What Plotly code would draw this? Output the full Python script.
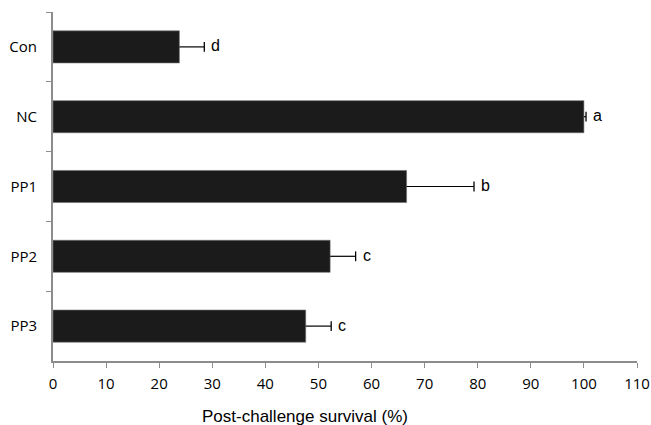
import plotly.graph_objects as go

categories = ["Con", "NC", "PP1", "PP2", "PP3"]
survival = [23.8, 100.0, 66.6, 52.2, 47.6]
errors = [4.7, 0.4, 12.7, 4.8, 4.8]
letters = ["d", "a", "b", "c", "c"]
x_ticks = [0, 10, 20, 30, 40, 50, 60, 70, 80, 90, 100, 110]

fig = go.Figure()
fig.add_trace(go.Bar(
    x=survival, y=categories, orientation="h",
    marker=dict(color="#1b1b1b", line=dict(color="#6e6e6e", width=0.6)),
    width=0.46,
))

# one-sided error bars (plus side only), built from the data arrays
ex, ey = [], []
for c, v, e in zip(categories, survival, errors):
    ex += [v, v + e, None]
    ey += [c, c, None]
fig.add_trace(go.Scatter(x=ex, y=ey, mode="lines",
                         line=dict(color="black", width=1.2),
                         hoverinfo="skip"))
fig.add_trace(go.Scatter(x=[v + e for v, e in zip(survival, errors)], y=categories,
                         mode="markers",
                         marker=dict(symbol="line-ns", size=7,
                                     line=dict(color="black", width=1.3)),
                         hoverinfo="skip"))

for c, v, e, l in zip(categories, survival, errors, letters):
    fig.add_annotation(x=v + e, y=c, text=l, showarrow=False,
                       xanchor="left", xshift=5, yshift=1,
                       font=dict(family="Liberation Sans", size=16, color="black"))

fig.add_annotation(x=0.431, y=0, xref="paper", yref="paper",
                   text="Post-challenge survival (%)", showarrow=False,
                   xanchor="center", yanchor="middle", yshift=-55,
                   font=dict(family="Liberation Sans", size=17, color="black"))

fig.update_layout(
    width=651, height=425,
    margin=dict(l=53, r=14, t=12, b=64),
    plot_bgcolor="white", paper_bgcolor="white",
    showlegend=False, bargap=0.54,
)
fig.update_xaxes(
    range=[0, 110], tickvals=x_ticks, showgrid=False, zeroline=False,
    automargin=False,
    showline=True, linecolor="#8c8c8c", linewidth=2,
    ticks="outside", ticklen=5, tickcolor="#8c8c8c", tickwidth=1.2,
    tickfont=dict(family="Open Sans", size=15, color="black"),
    ticklabelstandoff=3,
)
fig.update_yaxes(
    type="category", categoryorder="array", categoryarray=categories,
    autorange="reversed", tickson="boundaries", automargin=False,
    showgrid=False, zeroline=False,
    showline=True, linecolor="#8c8c8c", linewidth=2,
    ticks="outside", ticklen=5, tickcolor="#8c8c8c", tickwidth=1.2,
    tickfont=dict(family="Open Sans", size=15, color="black"),
    ticklabelstandoff=11,
)

fig.write_html("out.html", config={"displayModeBar": False},
               post_script="document.body.style.margin='0px';document.body.style.overflow='hidden';")
